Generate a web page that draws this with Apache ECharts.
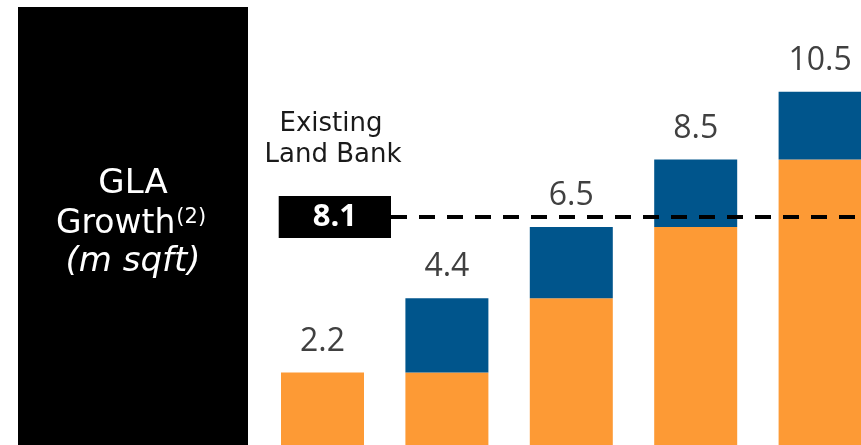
<!DOCTYPE html>
<html><head><meta charset="utf-8">
<script src="https://cdn.jsdelivr.net/npm/echarts@6/dist/echarts.min.js"></script>
<style>html,body{margin:0;padding:0;background:#fff}#c{width:861px;height:445px}</style>
</head><body><div id="c"></div>
<script>
const categories = ['Stage 1', 'Stage 2', 'Stage 3', 'Stage 4', 'Stage 5'];
const baseValues = [2.2, 2.2, 4.4, 6.5, 8.5];     // orange part
const totalValues = [2.2, 4.4, 6.5, 8.5, 10.5];   // bar totals (labels)
const landBankLabel = '8.1';
const landBankLineLevel = 6.8;                    // where the dashed line sits on the scale
const growthValues = totalValues.map((t, i) => +(t - baseValues[i]).toFixed(2)); // blue part

const chart = echarts.init(document.getElementById('c'), null, {renderer: 'canvas'});
const FONT = '"Open Sans", "Noto Sans", sans-serif';
const PFONT = '"DejaVu Sans", sans-serif';
chart.setOption({
  animation: false,
  grid: {left: 260.3, width: 622, top: 41, height: 406, containLabel: false, outerBoundsMode: 'none'},
  xAxis: {type: 'category', data: categories, show: false},
  yAxis: {type: 'value', min: 0, max: 12, show: false},
  series: [
    {
      type: 'bar', stack: 'g', data: baseValues, barWidth: 83,
      itemStyle: {color: '#FD9A35'}
    },
    {
      type: 'bar', stack: 'g', data: growthValues, barWidth: 83,
      itemStyle: {color: '#00558C'},
      label: {
        show: true, position: 'top', distance: 15,
        formatter: p => String(totalValues[p.dataIndex]),
        color: '#404040', fontSize: 32, fontFamily: FONT
      },
      markLine: {
        symbol: 'none', silent: true,
        lineStyle: {color: '#000', type: [16, 12], width: 4},
        label: {
          show: true, position: 'start', distance: 0,
          formatter: landBankLabel,
          color: '#fff', fontWeight: 'bold', fontSize: 31, fontFamily: FONT,
          backgroundColor: '#000', padding: [6, 34, 5, 34]
        },
        data: [[{yAxis: landBankLineLevel, x: 391}, {yAxis: landBankLineLevel, x: 861}]]
      }
    }
  ],
  graphic: [
    {type: 'rect', left: 18, top: 7, shape: {width: 230, height: 440}, style: {fill: '#000'}, z: 10},
    {type: 'text', z: 11, x: 133, y: 184,
     style: {text: 'GLA', fill: '#fff', font: '34px ' + PFONT, textAlign: 'center', textVerticalAlign: 'middle'}},
    {type: 'text', z: 11, x: 131, y: 224,
     style: {text: '{a|Growth}{b|(2)}', fill: '#fff', textAlign: 'center', textVerticalAlign: 'middle',
       rich: {a: {fontSize: 33, fontFamily: PFONT, fill: '#fff', color: '#fff'},
              b: {fontSize: 21, fontFamily: PFONT, fill: '#fff', color: '#fff', verticalAlign: 'top', padding: [0, 0, 12, 1]}}}},
    {type: 'text', z: 11, x: 133, y: 262,
     style: {text: '(m sqft)', fill: '#fff', font: 'italic 34px ' + PFONT, textAlign: 'center', textVerticalAlign: 'middle'}},
    {type: 'text', z: 11, x: 331, y: 124,
     style: {text: 'Existing', fill: '#1a1a1a', font: '26px ' + PFONT, textAlign: 'center', textVerticalAlign: 'middle'}},
    {type: 'text', z: 11, x: 333, y: 155,
     style: {text: 'Land Bank', fill: '#1a1a1a', font: '26px ' + PFONT, textAlign: 'center', textVerticalAlign: 'middle'}}
  ]
});
</script></body></html>
